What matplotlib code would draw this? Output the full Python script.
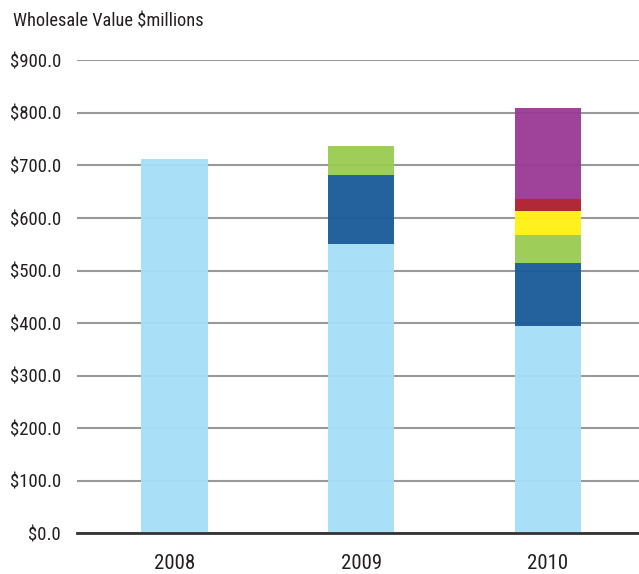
import matplotlib.pyplot as plt
from matplotlib import font_manager
import numpy as np

years = ['2008', '2009', '2010']
# stacked segments, bottom to top ($ millions)
light_blue = [713, 551, 394]
dark_blue = [0, 131, 121]
green = [0, 54, 53]
yellow = [0, 0, 45]
red = [0, 0, 24]
purple = [0, 0, 172]

series = [light_blue, dark_blue, green, yellow, red, purple]
colors = ['#A6DEF7', '#1B5C99', '#9ACB53', '#FFF014', '#AE1F2E', '#9B3B96']


def pick_font():
    # prefer a narrow face; fall back to plain sans faces
    fonts = font_manager.fontManager.ttflist
    names = {f.name for f in fonts}
    for name in ['Liberation Sans Narrow', 'Roboto Condensed', 'Open Sans Condensed']:
        if name in names:
            return dict(family=[name, 'DejaVu Sans'], fontstretch='normal'), 13.5
    for f in fonts:
        if f.name == 'DejaVu Sans' and 'Condensed' in f.fname:
            return dict(family=['DejaVu Sans'], fontstretch='condensed'), 12
    for name in ['Roboto', 'Liberation Sans']:
        if name in names:
            return dict(family=[name, 'DejaVu Sans'], fontstretch='normal'), 12
    return dict(family=['DejaVu Sans'], fontstretch='normal'), 11.5


font, size = pick_font()
plt.rcParams['font.family'] = font['family']
plt.rcParams['font.stretch'] = font['fontstretch']

fig = plt.figure(figsize=(6.39, 5.74), dpi=100)
ax = fig.add_axes([0.1205, 0.0706, 0.8795, 0.8244])

x = np.arange(len(years))
bottom = np.zeros(len(years))
for vals, c in zip(series, colors):
    ax.bar(x, vals, width=0.355, bottom=bottom, color=c, alpha=0.96,
           zorder=3, linewidth=0)
    bottom += np.array(vals)

ax.set_ylim(0, 900)
ax.set_xlim(-0.522, 2.488)
ax.set_yticks(np.arange(0, 901, 100))
ax.set_yticklabels(['${:.1f}'.format(v) for v in np.arange(0, 901, 100)])
ax.set_xticks(x)
ax.set_xticklabels(years)

ax.grid(axis='y', color='#999999', linewidth=1.5, zorder=1)
for s in ['top', 'right', 'left']:
    ax.spines[s].set_visible(False)
ax.spines['bottom'].set_color('#333333')
ax.spines['bottom'].set_linewidth(2)
ax.spines['bottom'].set_zorder(4)

ax.tick_params(axis='y', length=0, pad=11.5, labelsize=size, labelcolor='#231F20')
ax.tick_params(axis='x', length=0, pad=15, labelsize=size + 1.5, labelcolor='#231F20')

fig.text(0.02, 0.962, 'Wholesale Value $millions', fontsize=size - 0.3,
         color='#231F20', va='center', ha='left')

fig.savefig('out.png', dpi=100)
